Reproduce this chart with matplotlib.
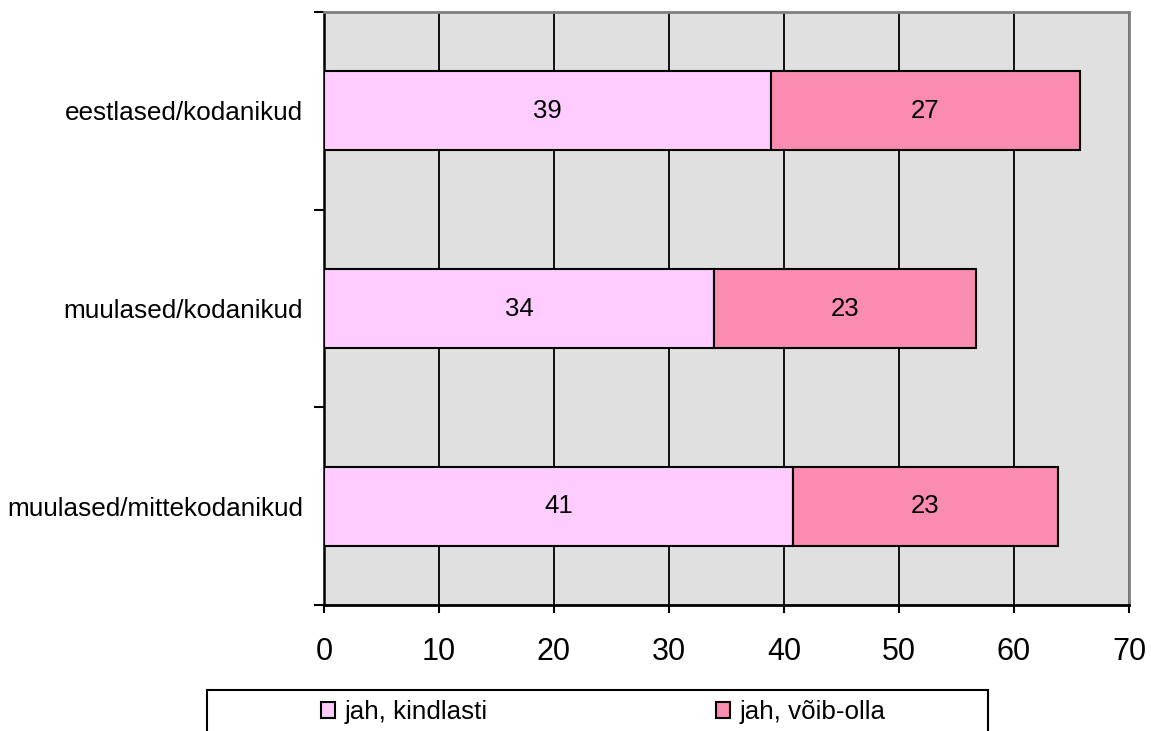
import numpy as np
import matplotlib
matplotlib.use("Agg")
from matplotlib import pyplot as plt
from matplotlib.patches import Rectangle, Patch

plt.rcParams['font.family'] = ['Liberation Sans', 'DejaVu Sans']

# data
groups = ["eestlased/kodanikud", "muulased/kodanikud", "muulased/mittekodanikud"]
kindlasti = [38.9, 33.9, 40.8]
voib_olla = [26.8, 22.8, 23.0]
series_names = ["jah, kindlasti", "jah, võib-olla"]
x_ticks = [0, 10, 20, 30, 40, 50, 60, 70]

col_light = "#FFCCFF"
col_pink = "#F98CB0"

W, H = 1151, 731
fig = plt.figure(figsize=(W / 100, H / 100), dpi=100)
ax = fig.add_axes([324 / W, 1 - 605 / H, (1129 - 324) / W, (605 - 12) / H])
ax.set_facecolor("#E0E0E0")

y = np.arange(len(groups))
b1 = ax.barh(y, kindlasti, height=0.4, color=col_light, edgecolor="black", linewidth=1.5, zorder=3)
b2 = ax.barh(y, voib_olla, left=kindlasti, height=0.4, color=col_pink, edgecolor="black", linewidth=1.5, zorder=3)

# value labels in the middle of each segment
for vals, lefts in [(kindlasti, [0] * 3), (voib_olla, kindlasti)]:
    for yi, v, l in zip(y, vals, lefts):
        ax.text(l + v / 2, yi, f"{round(v)}", ha="center", va="center", fontsize=18.5, zorder=4)

ax.set_xlim(0, 70)
ax.set_ylim(2.5, -0.5)
ax.set_xticks(x_ticks)
ax.set_xticklabels([str(t) for t in x_ticks], fontsize=22)
ax.tick_params(axis="x", direction="out", length=6, width=1.5, pad=17)

ax.set_yticks(y)
ax.set_yticklabels(groups, fontsize=18.8)
ax.tick_params(axis="y", which="major", length=0, pad=15)
ax.set_yticks(np.arange(-0.5, len(groups), 1.0), minor=True)
ax.tick_params(axis="y", which="minor", direction="out", length=7, width=1.5)

ax.set_axisbelow(True)
ax.grid(axis="x", color="black", linewidth=1.3)
ax.grid(axis="y", visible=False)

ax.spines["left"].set_linewidth(1.8)
ax.spines["bottom"].set_linewidth(2)
for s in ["top", "right"]:
    ax.spines[s].set_color("#808080")
    ax.spines[s].set_linewidth(2)

# legend box runs off the bottom of the picture
fig.patches.append(Rectangle((207 / W, -0.1), (988 - 207) / W, 0.1 + 1 - 690 / H,
                             transform=fig.transFigure, facecolor="white",
                             edgecolor="black", linewidth=1.5, zorder=1))
handles = [Patch(facecolor=col_light, edgecolor="black", linewidth=1.5),
           Patch(facecolor=col_pink, edgecolor="black", linewidth=1.5)]
fig.legend(handles, series_names, loc="center left", bbox_to_anchor=(321 / W, 1 - 712 / H),
           ncol=2, frameon=False, fontsize=18.7, handlelength=0.55, handleheight=0.55,
           handletextpad=0.35, columnspacing=8.8, borderpad=0, borderaxespad=0)

fig.savefig("out.png", dpi=100)
